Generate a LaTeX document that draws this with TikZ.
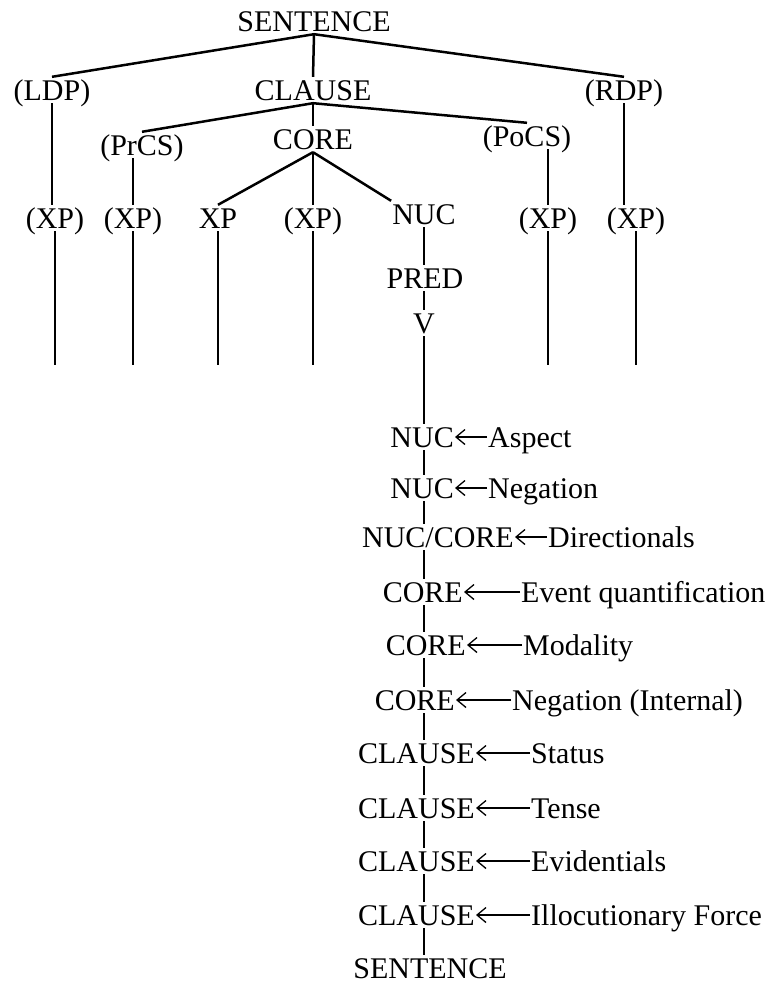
\documentclass[tikz,border=0pt]{standalone}
\usepackage{fontspec}
\setmainfont{Liberation Serif}
\usepackage{tikz}
\usetikzlibrary{arrows.meta}

\begin{document}
\begin{tikzpicture}[x=1pt, y=-1pt,
    every node/.style={font=\fontsize{30}{36}\selectfont, inner xsep=1pt, inner ysep=3pt, text height=20pt, text depth=0pt},
    branch/.style={line width=2.5pt},
    opline/.style={line width=1.6pt, -{Straight Barb[length=9pt, width=15pt, line width=1.3pt]}}]
      \useasboundingbox (0,0) rectangle (769,983);

      % Top of the tree
      \node (sent) at (314,21) {SENTENCE};
      \node (ldp) at (52,90) {(LDP)};
      \node (clause) at (313,90) {CLAUSE};
      \node (rdp) at (624,90) {(RDP)};
      \draw[branch] (sent.south) -- (ldp.north);
      \draw[branch] (sent.south) -- (clause.north);
      \draw[branch] (sent.south) -- (rdp.north);

      % Clause level
      \node (prcs) at (142,145) {(PrCS)};
      \node (core) at (313,139) {CORE};
      \node (pocs) at (527,136) {(PoCS)};
      \draw[branch] (clause.south) -- (prcs.north);
      \draw[branch] (clause.south) -- (core.north);
      \draw[branch] (clause.south) -- (pocs.north);

      % Phrase level
      \node (xp1) at (55,218) {(XP)};
      \node (xp2) at (133,218) {(XP)};
      \node (xp3) at (218,218) {XP};
      \node (xp4) at (313,218) {(XP)};
      \node (nuc) at (424,214) {NUC};
      \node (xp5) at (548,218) {(XP)};
      \node (xp6) at (636,218) {(XP)};
      \draw[branch] (ldp.south) -- (ldp.south |- xp1.north);
      \draw[branch] (xp2 |- prcs.south) -- (xp2.north);
      \draw[branch] (core.south) -- (xp3.north);
      \draw[branch] (core.south) -- (xp4.north);
      \draw[branch] (core.south) -- (nuc.north west);
      \draw[branch] (xp5 |- pocs.south) -- (xp5.north);
      \draw[branch] (rdp.south) -- (rdp.south |- xp6.north);

      % Lines down to the words
      \coordinate (base) at (0,365);
      \foreach \n in {xp1,xp2,xp3,xp4,xp5,xp6}
        \draw[branch] (\n.south) -- (\n.south |- base);

      % Nucleus
      \node (pred) at (425,278) {PRED};
      \node (v) at (424,323) {V};
      \draw[branch] (nuc.south) -- (pred.north -| nuc.south);
      \draw[branch] (pred.south -| nuc.south) -- (v.north);

      % Operators
      \foreach \i/\y/\lx/\lab/\rx/\op in {
          1/437/455/NUC/487/Aspect,
          2/488/455/NUC/487/Negation,
          3/537/515/NUC\slash CORE/547/Directionals,
          4/592/464/CORE/520/Event quantification,
          5/645/467/CORE/522/Modality,
          6/700/456/CORE/511/Negation (Internal),
          7/753/476/CLAUSE/530/Status,
          8/808/476/CLAUSE/530/Tense,
          9/861/476/CLAUSE/530/Evidentials,
          10/915/476/CLAUSE/530/Illocutionary Force} {
        \node[anchor=east] (l\i) at (\lx,\y) {\lab};
        \node[anchor=west] (r\i) at (\rx,\y) {\op};
        \draw[opline] (r\i.west) -- (l\i.east);
      }
      \node (bot) at (430,968) {SENTENCE};

      % Spine
      \coordinate (spine) at (424,0);
      \draw[branch] (v.south) -- (spine |- l1.north);
      \foreach \i [evaluate=\i as \j using int(\i+1)] in {1,...,9}
        \draw[branch] (spine |- l\i.south) -- (spine |- l\j.north);
      \draw[branch] (spine |- l10.south) -- (spine |- bot.north);
    \end{tikzpicture}
\end{document}
